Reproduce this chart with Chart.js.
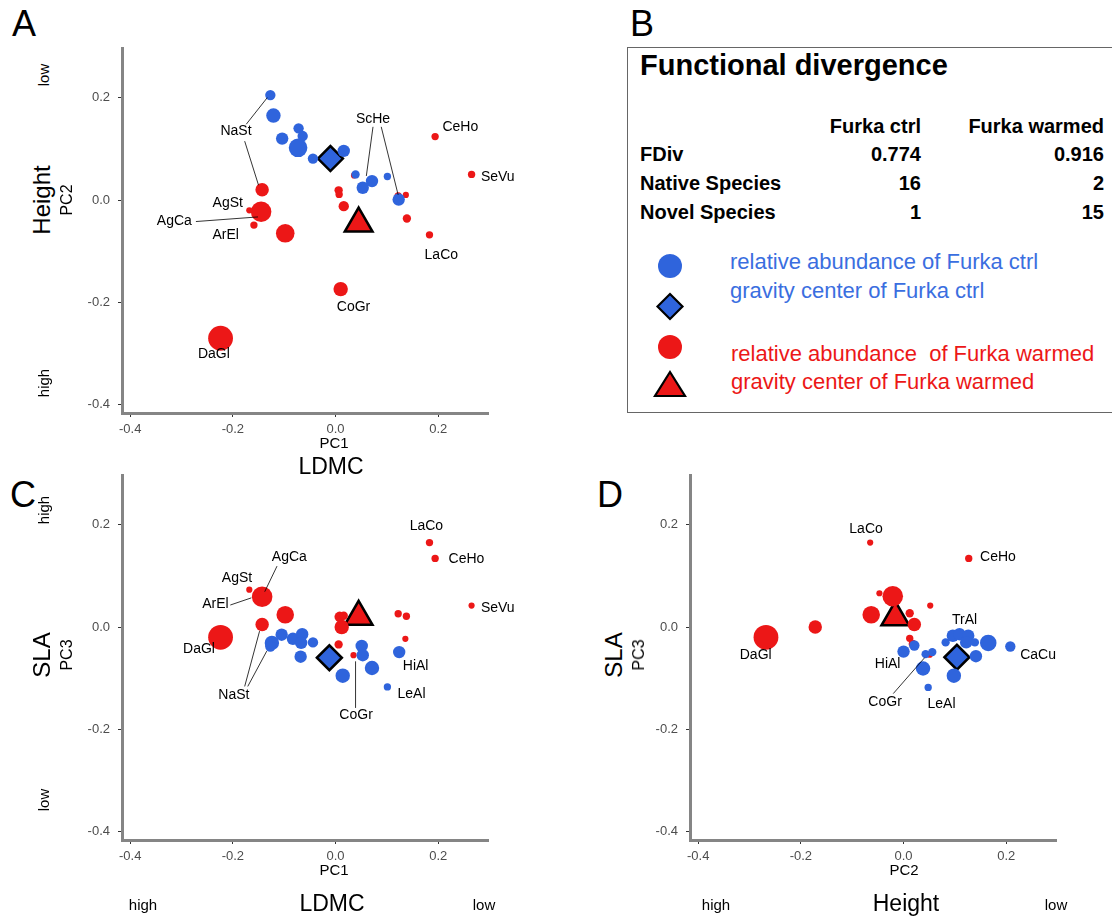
<!DOCTYPE html>
<html>
<head>
<meta charset="utf-8">
<script src="https://cdn.jsdelivr.net/npm/chart.js@4"></script>
<style>
  body { margin: 0; background: #fff; }
  #fig { position: relative; width: 1112px; height: 918px; overflow: hidden;
         font-family: "Liberation Sans", Arial, Helvetica, sans-serif; }
  .t { position: absolute; white-space: pre; line-height: 1; color: #000; }
  canvas { position: absolute; }
  #boxB { position: absolute; left: 627px; top: 47px; width: 500px; height: 366px;
          border: 1.5px solid #666; box-sizing: border-box; }
</style>
</head>
<body>
<div id="fig">
  <div id="boxB"></div>
  <svg id="legendB" width="60" height="160" style="position:absolute;left:640px;top:245px">
    <circle cx="30" cy="21" r="12" fill="#2f64dc"/>
    <polygon points="30,49 42.5,61.5 30,74 17.5,61.5" fill="#2f64dc" stroke="#000" stroke-width="2.2"/>
    <circle cx="30" cy="102" r="12" fill="#ec1717"/>
    <polygon points="30,127 45,151 15,151" fill="#ec1717" stroke="#000" stroke-width="2.2"/>
  </svg>
  <canvas id="chartA" width="466" height="413"></canvas>
  <canvas id="chartC" width="466" height="413"></canvas>
  <canvas id="chartD" width="466" height="413"></canvas>
</div>
<script>
// ---- data: [x, y, relative abundance] ----
const ldmcHeightCtrl = [[-0.127,0.205,2.8],[-0.121,0.165,5.4],[-0.104,0.120,4],[-0.072,0.140,2.8],[-0.064,0.125,2.8],
  [-0.073,0.102,9],[-0.044,0.081,2.8],[0.016,0.096,4],[0.039,0.050,1.8],[0.071,0.037,4],[0.053,0.024,4],
  [0.101,0.046,1.4],[0.123,0.001,4]];
const ldmcHeightWarm = [[-0.143,0.020,4.7],[-0.145,-0.023,11],[-0.168,-0.020,1],[-0.159,-0.049,1.4],[-0.098,-0.065,9],
  [0.006,0.019,1.8],[0.007,0.011,1.4],[0.016,-0.012,2.8],[0.036,0.048,1],[0.122,0.008,1.4],[0.137,0.010,1],
  [0.139,-0.036,1.8],[0.183,-0.068,1.4],[0.194,0.124,1.4],[0.265,0.050,1.4],[0.010,-0.174,5.4],[-0.224,-0.270,16]];
const ldmcHeightCenters = { ctrl: [-0.010, 0.081], warm: [0.045, -0.046] };

const ldmcSlaCtrl = [[-0.124,-0.031,5.4],[-0.127,-0.038,2.8],[-0.105,-0.015,4],[-0.083,-0.023,4],[-0.065,-0.014,4],
  [-0.067,-0.031,4],[-0.044,-0.030,2.8],[-0.068,-0.058,4],[0.051,-0.037,4],[0.053,-0.055,4],[0.014,-0.095,5.4],
  [0.071,-0.080,5.4],[0.124,-0.049,4],[0.101,-0.117,1.4]];
const ldmcSlaWarm = [[-0.143,0.059,11],[-0.168,0.073,1],[-0.143,0.005,4.7],[-0.098,0.024,8],[-0.224,-0.020,16],
  [0.012,0.000,5.4],[0.008,0.020,2.8],[0.016,0.022,1.8],[0.006,-0.034,1.8],[0.035,-0.055,1],[0.122,0.026,1.4],
  [0.138,0.021,1.4],[0.136,-0.023,1],[0.183,0.165,1.4],[0.194,0.134,1.4],[0.265,0.042,1]];
const ldmcSlaCenters = { ctrl: [-0.012, -0.060], warm: [0.045, 0.020] };

const heightSlaCtrl = [[0.000,-0.048,4],[0.021,-0.036,2.8],[0.043,-0.053,1.8],[0.056,-0.049,1.8],[0.038,-0.081,5.4],
  [0.048,-0.118,1.4],[0.082,-0.030,1.8],[0.096,-0.017,4],[0.109,-0.014,4],[0.126,-0.017,4],[0.122,-0.030,4],
  [0.139,-0.030,1.8],[0.165,-0.031,7.1],[0.208,-0.038,2.8],[0.141,-0.057,4],[0.098,-0.095,5.4]];
const heightSlaWarm = [[-0.268,-0.020,16],[-0.172,0.000,4.7],[-0.065,0.165,1],[0.127,0.134,1.4],[-0.021,0.060,11],
  [-0.047,0.066,1],[-0.063,0.024,8],[0.012,0.027,1.8],[0.021,0.005,4.7],[0.052,0.042,1],[0.012,-0.022,1.4],
  [0.018,-0.033,1.8],[0.051,-0.054,1]];
const heightSlaCenters = { ctrl: [0.104, -0.059], warm: [-0.016, 0.019] };

const tickValues = [-0.4, -0.2, 0.0, 0.2];

// species labels: [text, x, y, connector lines]
const labelsA = [
  ["NaSt", -0.194, 0.135, [[-0.174,0.148,-0.133,0.200], [-0.177,0.115,-0.150,0.029]]],
  ["ScHe", 0.073, 0.158, [[0.073,0.143,0.060,0.047], [0.089,0.143,0.122,0.010]]],
  ["CeHo", 0.243, 0.143], ["SeVu", 0.316, 0.045], ["AgSt", -0.210, -0.006],
  ["AgCa", -0.314, -0.041, [[-0.272,-0.042,-0.151,-0.033]]],
  ["ArEl", -0.214, -0.069], ["LaCo", 0.206, -0.108], ["CoGr", 0.035, -0.209], ["DaGl", -0.237, -0.301]
];
const labelsC = [
  ["LaCo", 0.177, 0.197], ["CeHo", 0.255, 0.133], ["SeVu", 0.316, 0.036],
  ["AgCa", -0.090, 0.137, [[-0.114,0.119,-0.138,0.069]]], ["AgSt", -0.192, 0.096],
  ["ArEl", -0.234, 0.044, [[-0.205,0.043,-0.164,0.057]]], ["DaGl", -0.266, -0.044],
  ["NaSt", -0.198, -0.134, [[-0.177,-0.116,-0.148,-0.008], [-0.171,-0.116,-0.134,-0.047]]],
  ["HiAl", 0.156, -0.077], ["LeAl", 0.148, -0.132],
  ["CoGr", 0.040, -0.172, [[0.039,-0.158,0.039,-0.067]]]
];
const labelsD = [
  ["LaCo", -0.073, 0.192], ["CeHo", 0.184, 0.137], ["TrAl", 0.119, 0.013], ["DaGl", -0.288, -0.054],
  ["HiAl", -0.031, -0.073], ["CoGr", -0.036, -0.147, [[-0.020,-0.130,0.041,-0.060]]],
  ["LeAl", 0.074, -0.151], ["CaCu", 0.262, -0.054]
];

const BLUE = "#2f64dc";
const RED = "#ec1717";
const FONT = "'Liberation Sans', Arial, Helvetica, sans-serif";
const radius = a => 3.1 * Math.sqrt(a);

const speciesLabels = {
  id: "speciesLabels",
  afterDatasetsDraw(chart, args, opts) {
    const { ctx, scales: { x, y } } = chart;
    ctx.save();
    ctx.strokeStyle = "#000";
    ctx.lineWidth = 0.8;
    ctx.fillStyle = "#000";
    ctx.font = "14px " + FONT;
    ctx.textAlign = "center";
    ctx.textBaseline = "middle";
    opts.items.forEach(([text, lx, ly, lines]) => {
      (lines || []).forEach(([x1, y1, x2, y2]) => {
        ctx.beginPath();
        ctx.moveTo(x.getPixelForValue(x1), y.getPixelForValue(y1));
        ctx.lineTo(x.getPixelForValue(x2), y.getPixelForValue(y2));
        ctx.stroke();
      });
      ctx.fillText(text, x.getPixelForValue(lx), y.getPixelForValue(ly));
    });
    ctx.restore();
  }
};

const axis = (extra) => Object.assign({
  type: "linear", min: -0.416, max: 0.297,
  border: { display: true, color: "#858585", width: 3 },
  grid: { drawOnChartArea: false, drawTicks: true, tickLength: 4, tickColor: "#333", lineWidth: 1 },
  afterBuildTicks: s => { s.ticks = tickValues.map(v => ({ value: v })); },
  ticks: {
    includeBounds: false, color: "#4d4d4d", font: { family: FONT, size: 13 },
    callback: v => (Math.round(v * 10) / 10).toFixed(1)
  }
}, extra);

function makePanel(id, areaLeft, areaTop, ctrl, warm, centers, labels) {
  const canvas = document.getElementById(id);
  canvas.style.left = (areaLeft - 60) + "px";
  canvas.style.top = (areaTop - 20) + "px";
  const pts = arr => arr.map(([x, y, a]) => ({ x, y, a }));
  new Chart(canvas, {
    type: "scatter",
    data: {
      datasets: [
        { data: pts(ctrl), backgroundColor: BLUE, borderWidth: 0, pointRadius: c => radius(c.raw.a) },
        { data: pts(warm), backgroundColor: RED, borderWidth: 0, pointRadius: c => radius(c.raw.a) },
        { data: [{ x: centers.ctrl[0], y: centers.ctrl[1] }], pointStyle: "rectRot", pointRadius: 12.5,
          backgroundColor: BLUE, borderColor: "#000", borderWidth: 2.5 },
        { data: [{ x: centers.warm[0], y: centers.warm[1] }], pointStyle: "triangle", pointRadius: 16,
          backgroundColor: RED, borderColor: "#000", borderWidth: 2.5 }
      ]
    },
    options: {
      responsive: false,
      animation: false,
      events: [],
      layout: { padding: { top: 20, right: 40, left: 0, bottom: 0 } },
      plugins: { legend: { display: false }, tooltip: { enabled: false }, speciesLabels: { items: labels } },
      scales: {
        x: axis({ position: "bottom", afterFit: s => { s.height = 28; },
          ticks: Object.assign({}, axis().ticks, { padding: 5, maxRotation: 0 }) }),
        y: axis({ position: "left", afterFit: s => { s.width = 60; },
          ticks: Object.assign({}, axis().ticks, { padding: 8 }) })
      }
    },
    plugins: [speciesLabels]
  });
}

makePanel("chartA", 122, 48, ldmcHeightCtrl, ldmcHeightWarm, ldmcHeightCenters, labelsA);
makePanel("chartC", 122, 475, ldmcSlaCtrl, ldmcSlaWarm, ldmcSlaCenters, labelsC);
makePanel("chartD", 690, 475, heightSlaCtrl, heightSlaWarm, heightSlaCenters, labelsD);

// ---- outer text ----
const fig = document.getElementById("fig");
function txt(s, x, y, size, o = {}) {
  const d = document.createElement("div");
  d.className = "t";
  d.textContent = s;
  d.style.fontSize = size + "px";
  if (o.bold) d.style.fontWeight = "bold";
  if (o.color) d.style.color = o.color;
  d.style.left = x + "px";
  d.style.top = y + "px";
  let tf = "";
  if (o.align === "left") tf = "translate(0,-50%)";
  else if (o.align === "right") tf = "translate(-100%,-50%)";
  else tf = "translate(-50%,-50%)";
  if (o.rot) tf += " rotate(-90deg)";
  d.style.transform = tf;
  fig.appendChild(d);
}
// panel letters
txt("A", 24, 24, 36); txt("B", 642, 24, 36); txt("C", 23, 495, 36); txt("D", 610, 495, 36);
// panel A
txt("low", 43, 75, 15, { rot: true }); txt("Height", 42, 200, 24, { rot: true });
txt("PC2", 67, 200, 16, { rot: true }); txt("high", 43, 383, 15, { rot: true });
txt("PC1", 334, 442, 15); txt("LDMC", 331, 466, 23);
// panel C
txt("high", 43, 510, 15, { rot: true }); txt("SLA", 42, 655, 24, { rot: true });
txt("PC3", 67, 655, 16, { rot: true }); txt("low", 43, 800, 15, { rot: true });
txt("PC1", 334, 869, 15); txt("LDMC", 332, 903, 23);
txt("high", 143, 904, 15); txt("low", 484, 904, 15);
// panel D
txt("SLA", 614, 655, 24, { rot: true }); txt("PC3", 639, 655, 16, { rot: true });
txt("PC2", 904, 869, 15); txt("Height", 906, 903, 23);
txt("high", 716, 904, 15); txt("low", 1056, 904, 15);
// panel B table
txt("Functional divergence", 640, 65, 29, { bold: true, align: "left" });
txt("Furka ctrl", 921, 126, 20, { bold: true, align: "right" });
txt("Furka warmed", 1104, 126, 20, { bold: true, align: "right" });
[["FDiv", "0.774", "0.916", 154], ["Native Species", "16", "2", 183], ["Novel Species", "1", "15", 212]]
  .forEach(([name, a, b, yy]) => {
    txt(name, 640, yy, 20, { bold: true, align: "left" });
    txt(a, 921, yy, 20, { bold: true, align: "right" });
    txt(b, 1104, yy, 20, { bold: true, align: "right" });
  });
txt("relative abundance of Furka ctrl", 730, 262, 22, { align: "left", color: "#3a6ee0" });
txt("gravity center of Furka ctrl", 730, 291, 22, { align: "left", color: "#3a6ee0" });
txt("relative abundance  of Furka warmed", 731, 354, 22, { align: "left", color: "#ec1717" });
txt("gravity center of Furka warmed", 731, 382, 22, { align: "left", color: "#ec1717" });
</script>
</body>
</html>
